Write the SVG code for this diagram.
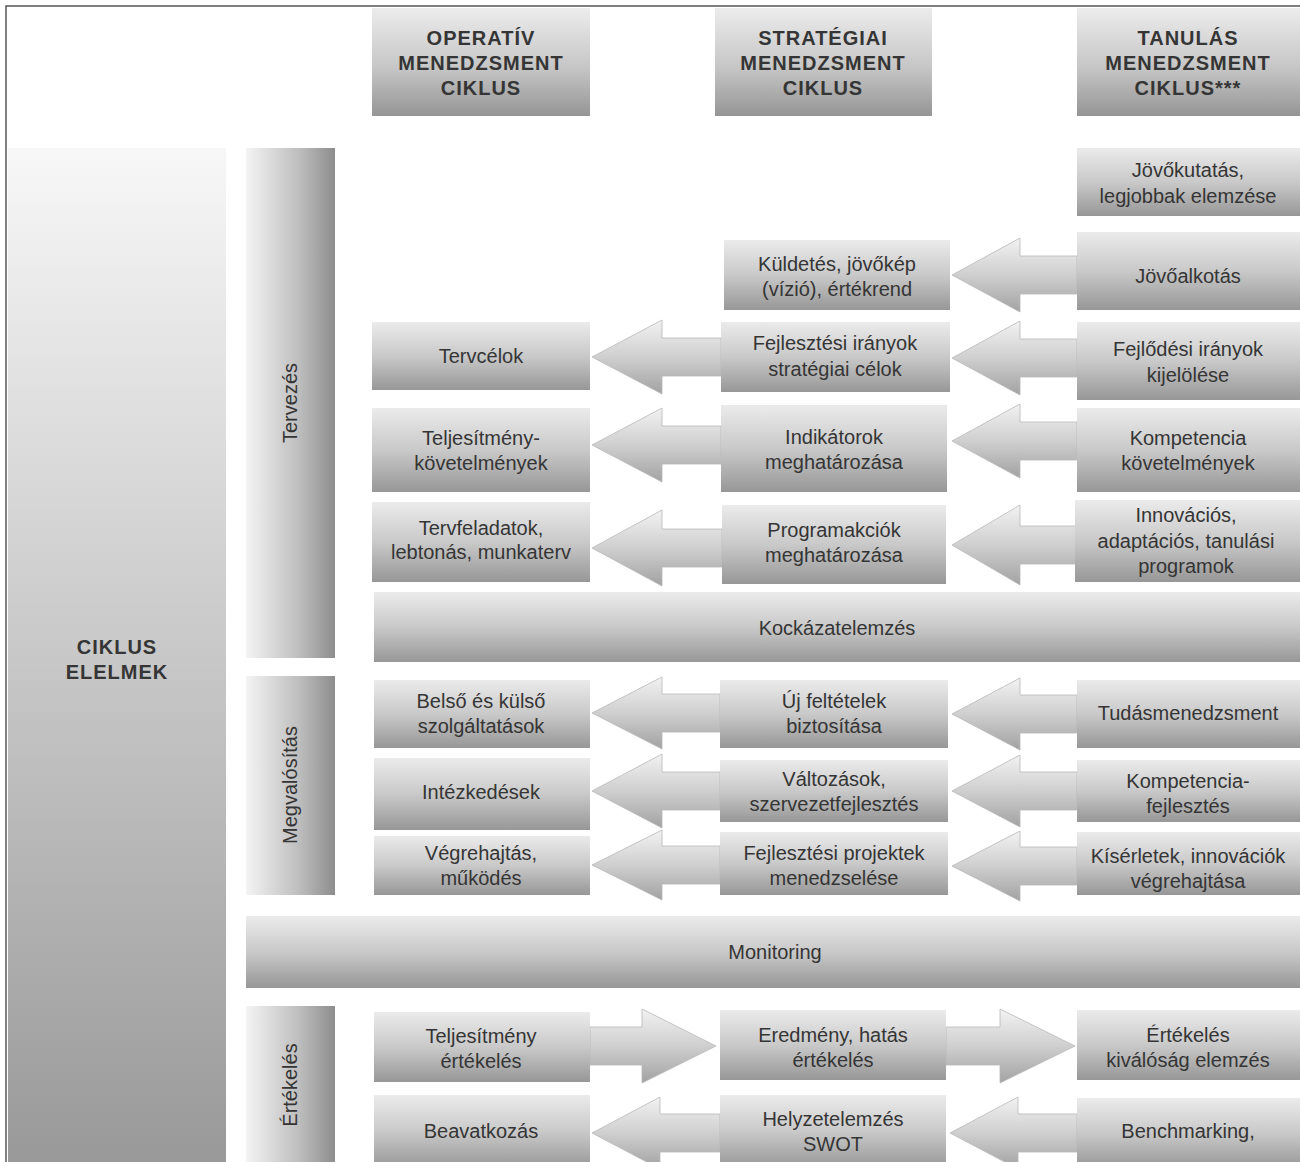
<svg xmlns="http://www.w3.org/2000/svg" width="1300" height="1162" viewBox="0 0 1300 1162">
<defs>
<linearGradient id="gBox" x1="0" y1="0" x2="0" y2="1">
<stop offset="0" stop-color="#ebebeb"/><stop offset="0.5" stop-color="#c9c9c9"/><stop offset="1" stop-color="#979797"/>
</linearGradient>
<linearGradient id="gHead" x1="0" y1="0" x2="0" y2="1">
<stop offset="0" stop-color="#ececec"/><stop offset="0.55" stop-color="#c6c6c6"/><stop offset="1" stop-color="#959595"/>
</linearGradient>
<linearGradient id="gCol" x1="0" y1="0" x2="0" y2="1">
<stop offset="0" stop-color="#f7f7f7"/><stop offset="0.5" stop-color="#c8c8c8"/><stop offset="1" stop-color="#999999"/>
</linearGradient>
<linearGradient id="gBar" x1="0" y1="0" x2="1" y2="0">
<stop offset="0" stop-color="#f4f4f4"/><stop offset="0.6" stop-color="#bdbdbd"/><stop offset="1" stop-color="#8d8d8d"/>
</linearGradient>
<linearGradient id="gArrow" x1="0" y1="0" x2="0" y2="1">
<stop offset="0" stop-color="#f2f2f2"/><stop offset="0.5" stop-color="#cfcfcf"/><stop offset="1" stop-color="#a2a2a2"/>
</linearGradient>
</defs>
<style>
.box{fill:url(#gBox);}
.hd{fill:url(#gHead);}
.bar{fill:url(#gBar);}
.arr{fill:url(#gArrow);stroke:#b8b8b8;stroke-width:0.8;}
text{font-family:"Liberation Sans",Arial,sans-serif;font-size:20px;fill:#353535;text-anchor:middle;}
.b{font-weight:bold;letter-spacing:1px;}
</style>
<rect x="0" y="0" width="1300" height="1162" fill="#ffffff"/>
<path d="M6 1162 V6 H1300" fill="none" stroke="#555" stroke-width="1.5"/>

<g id="h-operativ"><rect class="hd" x="372" y="8" width="218" height="108"/><text class="b"><tspan x="481" y="45">OPERATÍV</tspan><tspan x="481" y="70">MENEDZSMENT</tspan><tspan x="481" y="95">CIKLUS</tspan></text></g>
<g id="h-strategiai"><rect class="hd" x="715" y="8" width="217" height="108"/><text class="b"><tspan x="823" y="45">STRATÉGIAI</tspan><tspan x="823" y="70">MENEDZSMENT</tspan><tspan x="823" y="95">CIKLUS</tspan></text></g>
<g id="h-tanulas"><rect class="hd" x="1077" y="8" width="223" height="108"/><text class="b"><tspan x="1188" y="45">TANULÁS</tspan><tspan x="1188" y="70">MENEDZSMENT</tspan><tspan x="1188" y="95">CIKLUS***</tspan></text></g>

<g id="ciklus-elemek"><rect x="8" y="148" width="218" height="1014" fill="url(#gCol)"/><text class="b"><tspan x="117" y="654">CIKLUS</tspan><tspan x="117" y="679">ELELMEK</tspan></text></g>
<g id="tervezes"><rect class="bar" x="246" y="148" width="89" height="510"/><text transform="translate(297 403) rotate(-90)">Tervezés</text></g>
<g id="megvalositas"><rect class="bar" x="246" y="676" width="89" height="219"/><text transform="translate(297 785) rotate(-90)">Megvalósítás</text></g>
<g id="ertekeles-phase"><rect class="bar" x="246" y="1006" width="89" height="160"/><text transform="translate(297 1085) rotate(-90)">Értékelés</text></g>
<g id="monitoring"><rect class="box" x="246" y="916" width="1054" height="72"/><text x="775" y="959">Monitoring</text></g>
<g id="kockazat"><rect class="box" x="374" y="592" width="926" height="70"/><text x="837" y="635">Kockázatelemzés</text></g>

<g id="connectors">
<path class="arr" d="M952 275 L1020 238 L1020 256 L1077 256 L1077 294 L1020 294 L1020 312 Z"/>
<path class="arr" d="M952 358 L1020 321 L1020 339 L1077 339 L1077 377 L1020 377 L1020 395 Z"/>
<path class="arr" d="M952 441 L1020 404 L1020 422 L1077 422 L1077 460 L1020 460 L1020 478 Z"/>
<path class="arr" d="M952 545 L1020 505 L1020 526 L1077 526 L1077 564 L1020 564 L1020 585 Z"/>
<path class="arr" d="M952 714 L1020 678 L1020 695 L1077 695 L1077 733 L1020 733 L1020 750 Z"/>
<path class="arr" d="M952 791 L1020 755 L1020 772 L1077 772 L1077 810 L1020 810 L1020 827 Z"/>
<path class="arr" d="M952 866 L1020 831 L1020 847 L1077 847 L1077 885 L1020 885 L1020 901 Z"/>
<path class="arr" d="M950 1133 L1018 1097 L1018 1114 L1077 1114 L1077 1152 L1018 1152 L1018 1169 Z"/>
<path class="arr" d="M592 357 L662 320 L662 338 L721 338 L721 376 L662 376 L662 394 Z"/>
<path class="arr" d="M592 445 L662 408 L662 426 L721 426 L721 464 L662 464 L662 482 Z"/>
<path class="arr" d="M592 548 L662 510 L662 529 L722 529 L722 567 L662 567 L662 586 Z"/>
<path class="arr" d="M592 713 L662 677 L662 694 L720 694 L720 732 L662 732 L662 749 Z"/>
<path class="arr" d="M592 791 L662 754 L662 772 L720 772 L720 810 L662 810 L662 828 Z"/>
<path class="arr" d="M592 865 L662 830 L662 846 L720 846 L720 884 L662 884 L662 900 Z"/>
<path class="arr" d="M592 1133 L660 1097 L660 1114 L720 1114 L720 1152 L660 1152 L660 1169 Z"/>
<path class="arr" d="M716 1046 L642 1009 L642 1027 L590 1027 L590 1065 L642 1065 L642 1083 Z"/>
<path class="arr" d="M1075 1046 L1000 1009 L1000 1027 L946 1027 L946 1065 L1000 1065 L1000 1083 Z"/>
</g>

<g id="jovokutatas"><rect class="box" x="1077" y="148" width="223" height="68"/><text><tspan x="1188" y="177">Jövőkutatás,</tspan><tspan x="1188" y="203">legjobbak elemzése</tspan></text></g>
<g id="jovoalkotas"><rect class="box" x="1077" y="232" width="223" height="78"/><text x="1188" y="283">Jövőalkotás</text></g>
<g id="kuldetes"><rect class="box" x="724" y="240" width="226" height="70"/><text><tspan x="837" y="271">Küldetés, jövőkép</tspan><tspan x="837" y="296">(vízió), értékrend</tspan></text></g>
<g id="fejlodesi"><rect class="box" x="1077" y="322" width="223" height="78"/><text><tspan x="1188" y="356">Fejlődési irányok</tspan><tspan x="1188" y="382">kijelölése</tspan></text></g>
<g id="fejlesztesi-iranyok"><rect class="box" x="721" y="322" width="229" height="70"/><text><tspan x="835" y="350">Fejlesztési irányok</tspan><tspan x="835" y="376">stratégiai célok</tspan></text></g>
<g id="tervcelok"><rect class="box" x="372" y="322" width="218" height="68"/><text x="481" y="363">Tervcélok</text></g>
<g id="kompetencia-kov"><rect class="box" x="1077" y="408" width="223" height="84"/><text><tspan x="1188" y="445">Kompetencia</tspan><tspan x="1188" y="470">követelmények</tspan></text></g>
<g id="indikatorok"><rect class="box" x="721" y="405" width="226" height="87"/><text><tspan x="834" y="444">Indikátorok</tspan><tspan x="834" y="469">meghatározása</tspan></text></g>
<g id="teljesitmeny-kov"><rect class="box" x="372" y="408" width="218" height="84"/><text><tspan x="481" y="445">Teljesítmény-</tspan><tspan x="481" y="470">követelmények</tspan></text></g>
<g id="innovacios"><rect class="box" x="1075" y="500" width="225" height="82"/><text><tspan x="1186" y="522">Innovációs,</tspan><tspan x="1186" y="548">adaptációs, tanulási</tspan><tspan x="1186" y="573">programok</tspan></text></g>
<g id="programakciok"><rect class="box" x="722" y="505" width="224" height="79"/><text><tspan x="834" y="537">Programakciók</tspan><tspan x="834" y="562">meghatározása</tspan></text></g>
<g id="tervfeladatok"><rect class="box" x="372" y="502" width="218" height="80"/><text><tspan x="481" y="535">Tervfeladatok,</tspan><tspan x="481" y="559">lebtonás, munkaterv</tspan></text></g>

<g id="tudasmenedzsment"><rect class="box" x="1077" y="680" width="223" height="68"/><text x="1188" y="720">Tudásmenedzsment</text></g>
<g id="uj-feltetelek"><rect class="box" x="720" y="680" width="228" height="68"/><text><tspan x="834" y="708">Új feltételek</tspan><tspan x="834" y="733">biztosítása</tspan></text></g>
<g id="belso-kulso"><rect class="box" x="374" y="680" width="216" height="68"/><text><tspan x="481" y="708">Belső és külső</tspan><tspan x="481" y="733">szolgáltatások</tspan></text></g>
<g id="kompetencia-fejl"><rect class="box" x="1077" y="760" width="223" height="62"/><text><tspan x="1188" y="788">Kompetencia-</tspan><tspan x="1188" y="813">fejlesztés</tspan></text></g>
<g id="valtozasok"><rect class="box" x="720" y="760" width="228" height="62"/><text><tspan x="834" y="786">Változások,</tspan><tspan x="834" y="811">szervezetfejlesztés</tspan></text></g>
<g id="intezkedesek"><rect class="box" x="374" y="758" width="216" height="72"/><text x="481" y="799">Intézkedések</text></g>
<g id="kiserletek"><rect class="box" x="1077" y="832" width="223" height="63"/><text><tspan x="1188" y="863">Kísérletek, innovációk</tspan><tspan x="1188" y="888">végrehajtása</tspan></text></g>
<g id="fejlesztesi-projektek"><rect class="box" x="720" y="832" width="228" height="63"/><text><tspan x="834" y="860">Fejlesztési projektek</tspan><tspan x="834" y="885">menedzselése</tspan></text></g>
<g id="vegrehajtas"><rect class="box" x="374" y="836" width="216" height="59"/><text><tspan x="481" y="860">Végrehajtás,</tspan><tspan x="481" y="885">működés</tspan></text></g>

<g id="ertekeles-kivalosag"><rect class="box" x="1077" y="1010" width="223" height="70"/><text><tspan x="1188" y="1042">Értékelés</tspan><tspan x="1188" y="1067">kiválóság elemzés</tspan></text></g>
<g id="eredmeny"><rect class="box" x="720" y="1010" width="226" height="70"/><text><tspan x="833" y="1042">Eredmény, hatás</tspan><tspan x="833" y="1067">értékelés</tspan></text></g>
<g id="teljesitmeny-ert"><rect class="box" x="374" y="1012" width="216" height="70"/><text><tspan x="481" y="1043">Teljesítmény</tspan><tspan x="481" y="1068">értékelés</tspan></text></g>
<g id="benchmarking"><rect class="box" x="1077" y="1098" width="223" height="70"/><text x="1188" y="1138">Benchmarking,</text></g>
<g id="helyzetelemzes"><rect class="box" x="720" y="1095" width="226" height="73"/><text><tspan x="833" y="1126">Helyzetelemzés</tspan><tspan x="833" y="1151">SWOT</tspan></text></g>
<g id="beavatkozas"><rect class="box" x="374" y="1095" width="216" height="73"/><text x="481" y="1138">Beavatkozás</text></g>
</svg>
